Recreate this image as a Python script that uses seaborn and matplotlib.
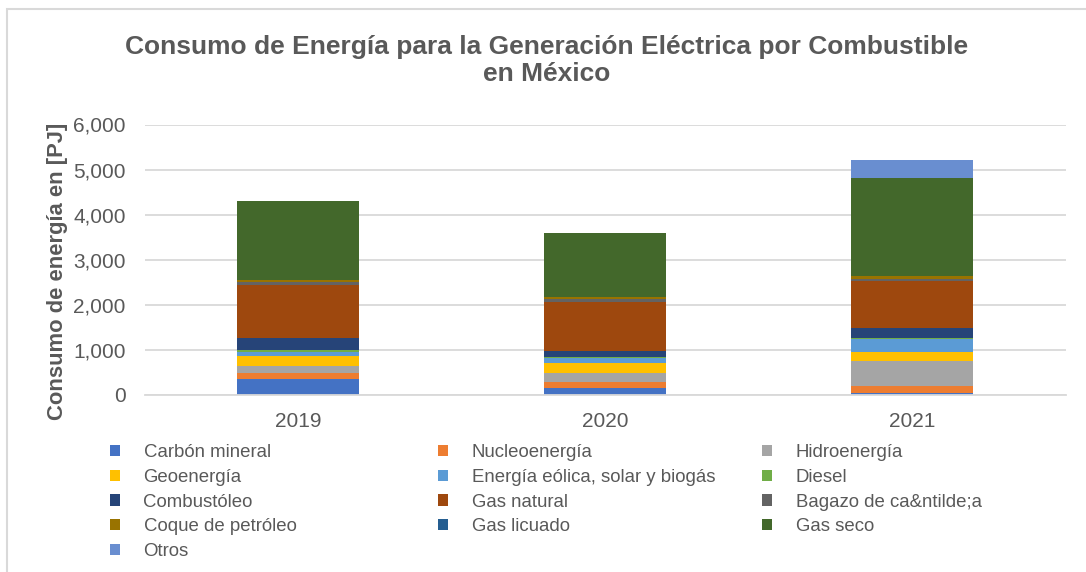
import matplotlib
matplotlib.use("Agg")
import matplotlib.pyplot as plt
from matplotlib.patches import Rectangle, Patch
import seaborn as sns
import pandas as pd

years = [2019, 2020, 2021]
fuels = ["Carbón mineral", "Nucleoenergía", "Hidroenergía", "Geoenergía",
         "Energía eólica, solar y biogás", "Diesel", "Combustóleo",
         "Gas natural", "Bagazo de ca&ntilde;a", "Coque de petróleo",
         "Gas licuado", "Gas seco", "Otros"]
colors = ["#4472C4", "#ED7D31", "#A5A5A5", "#FFC000", "#5B9BD5", "#70AD47",
          "#264478", "#9E480E", "#636363", "#997300", "#255E91", "#43682B",
          "#698ED0"]

# PJ por año (2019, 2020, 2021)
carbon = [348, 162, 55]
nucleo = [133, 119, 151]
hidro = [169, 200, 554]
geo = [222, 222, 200]
eolica = [88, 117, 275]
diesel = [40, 22, 29]
combustoleo = [266, 126, 228]
gas_natural = [1168, 1100, 1042]
bagazo = [73, 53, 45]
coque = [38, 44, 60]
gas_licuado = [5, 5, 5]
gas_seco = [1755, 1428, 2168]
otros = [3, 6, 399]

series = [carbon, nucleo, hidro, geo, eolica, diesel, combustoleo,
          gas_natural, bagazo, coque, gas_licuado, gas_seco, otros]

rows = []
for name, vals in zip(fuels, series):
    for y, v in zip(years, vals):
        rows.append({"Año": y, "Combustible": name, "PJ": v})
df = pd.DataFrame(rows)

sns.set_theme(style="white")
plt.rcParams["font.family"] = ["Liberation Sans", "DejaVu Sans"]
text_color = "#595959"

W, H = 1086, 572
fig = plt.figure(figsize=(W / 100, H / 100), dpi=100)
ax = fig.add_axes([144.5 / W, 1 - 395 / H, 921 / W, (395 - 124.5) / H])

# seaborn stacks the first hue level on top, so pass the order reversed
sns.histplot(data=df, x="Año", weights="PJ", hue="Combustible",
             hue_order=fuels[::-1], palette=dict(zip(fuels, colors)),
             multiple="stack", discrete=True, shrink=0.4, alpha=1,
             linewidth=0, legend=False, ax=ax)

ax.set_xlim(2018.5, 2021.5)
ax.set_ylim(0, 6000)
ax.set_xticks(years)
ax.set_xticklabels([str(y) for y in years])
ax.set_yticks(range(0, 6001, 1000))
ax.set_yticklabels([f"{v:,}" for v in range(0, 6001, 1000)])
ax.tick_params(axis="both", length=0, labelsize=15, colors=text_color)
ax.tick_params(axis="x", pad=12.5)
ax.tick_params(axis="y", pad=13.5)
ax.grid(axis="y", color="#D9D9D9", linewidth=1.3)
ax.set_axisbelow(True)
for s in ["top", "right", "left"]:
    ax.spines[s].set_visible(False)
ax.spines["bottom"].set_color("#D9D9D9")
ax.spines["bottom"].set_linewidth(1.3)
ax.set_xlabel("")
ax.set_ylabel("")

fig.text(57 / W, 1 - 271 / H, "Consumo de energía en [PJ]", rotation=90,
         ha="center", va="center", fontsize=15.8, fontweight="bold",
         color=text_color)

fig.text(0.503, 1 - 47 / H,
         "Consumo de Energía para la Generación Eléctrica por Combustible",
         ha="center", va="center", fontsize=19, fontweight="bold",
         color=text_color)
fig.text(0.503, 1 - 74 / H, "en México", ha="center", va="center",
         fontsize=19, fontweight="bold", color=text_color)

# chart area border
fig.patches.append(Rectangle((7 / W, -0.1), 1.2, 1 - 9 / H + 0.1,
                             transform=fig.transFigure, fill=False,
                             edgecolor="#D9D9D9", linewidth=1.5))

# legend in three columns, row-major order
col_x = [110, 438, 762]
for c in range(3):
    items = list(range(c, len(fuels), 3))
    handles = [Patch(facecolor=colors[i], edgecolor="none") for i in items]
    labels = [fuels[i] for i in items]
    leg = fig.legend(handles, labels, loc="upper left",
                     bbox_to_anchor=(col_x[c] / W, 1 - 444 / H),
                     frameon=False, fontsize=13.4, handlelength=0.55,
                     handleheight=0.55, handletextpad=1.25, labelspacing=0.42,
                     borderaxespad=0, borderpad=0)
    for t in leg.get_texts():
        t.set_color(text_color)

fig.savefig("out.png", dpi=100)
